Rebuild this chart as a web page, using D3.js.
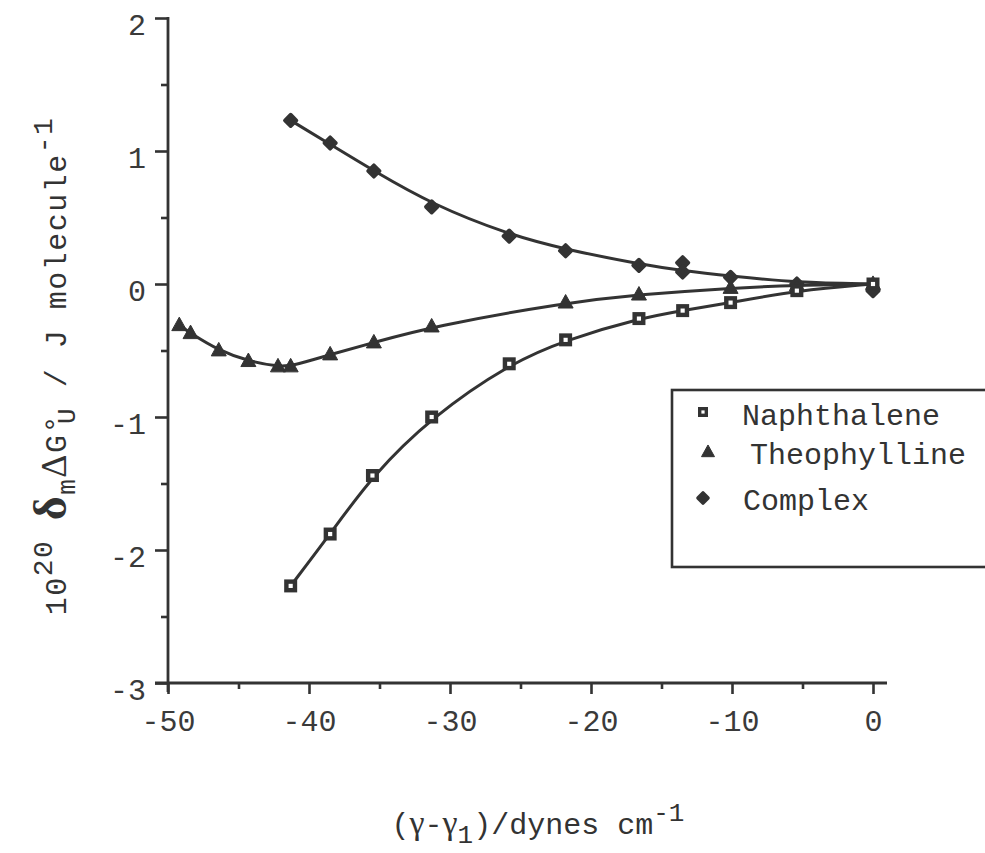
<!DOCTYPE html>
<html>
<head>
<meta charset="utf-8">
<script src="https://cdn.jsdelivr.net/npm/d3@7"></script>
<style>
  html, body { margin: 0; padding: 0; background: #fff; }
  svg { display: block; }
</style>
</head>
<body>
<svg id="chart" width="985" height="853"></svg>
<script>
// ---- data ----
const naphX = [-41.3, -38.5, -35.5, -31.3, -25.8, -21.8, -16.6, -13.5, -10.1, -5.4, 0];
const naphY = [-2.27, -1.88, -1.44, -1.00, -0.60, -0.42, -0.26, -0.20, -0.14, -0.05, 0.0];

const theoX = [-49.2, -48.4, -46.4, -44.3, -42.2, -41.3, -38.5, -35.4, -31.3, -21.8, -16.6, -10.1, -5.4, 0];
const theoY = [-0.31, -0.37, -0.50, -0.58, -0.62, -0.62, -0.53, -0.44, -0.32, -0.14, -0.08, -0.03, -0.01, 0.0];

const compX = [-41.3, -38.5, -35.4, -31.3, -25.8, -21.8, -16.6, -13.5, -13.5, -10.1, -5.4, 0];
const compY = [1.23, 1.06, 0.85, 0.58, 0.36, 0.25, 0.14, 0.16, 0.09, 0.05, 0.0, -0.05];

// fitted curve for the complex, as drawn in the picture
const compFitX = [-41.3, -38.5, -35.4, -31.3, -25.8, -21.8, -16.6, -13.5, -10.1, -5.4, 0];
const compFitY = [1.23, 1.05, 0.85, 0.60, 0.37, 0.26, 0.15, 0.10, 0.06, 0.01, 0.0];

const seriesNames = ["Naphthalene", "Theophylline", "Complex"];
const xTicks = [-50, -40, -30, -20, -10, 0];
const xMinorTicks = [-45, -35, -25, -15, -5];
const yTicks = [2, 1, 0, -1, -2, -3];
const yMinorTicks = [1.5, 0.5, -0.5, -1.5, -2.5];

// ---- setup ----
const ink = "#333";
const mono = "'Liberation Mono', 'Courier New', monospace";
const serif = "'Liberation Serif', 'Times New Roman', serif";
const svg = d3.select("#chart");

const x = d3.scaleLinear().domain([-50, 0]).range([168, 873]);
const y = d3.scaleLinear().domain([-3, 2]).range([683, 18]);

// ---- axes ----
const xAxisG = svg.append("g").attr("transform", `translate(0,${y(-3)})`)
  .call(d3.axisBottom(x).tickValues(xTicks).tickSize(11).tickSizeOuter(0).tickFormat(d => String(d)).tickPadding(16));
const xMinorG = svg.append("g").attr("transform", `translate(0,${y(-3)})`)
  .call(d3.axisBottom(x).tickValues(xMinorTicks).tickSize(6).tickSizeOuter(0).tickFormat(""));
const yAxisG = svg.append("g").attr("transform", `translate(${x(-50)},0)`)
  .call(d3.axisLeft(y).tickValues(yTicks).tickSize(13).tickSizeOuter(0).tickFormat(d => String(d)).tickPadding(9));
const yMinorG = svg.append("g").attr("transform", `translate(${x(-50)},0)`)
  .call(d3.axisLeft(y).tickValues(yMinorTicks).tickSize(7).tickSizeOuter(0).tickFormat(""));

[xAxisG, xMinorG, yAxisG, yMinorG].forEach(g => {
  g.select(".domain").remove();
  g.selectAll(".tick line").attr("stroke", ink).attr("stroke-width", 2.6);
  g.selectAll(".tick text").attr("fill", "#3a3a3a").attr("font-family", mono).attr("font-size", 30);
});
yAxisG.selectAll(".tick text").attr("dy", "0.55em");

// axis lines (cross at the corner)
svg.append("line").attr("x1", x(-50)).attr("x2", x(-50)).attr("y1", y(2) - 1).attr("y2", y(-3) + 9)
  .attr("stroke", ink).attr("stroke-width", 2.8);
svg.append("line").attr("x1", x(-50) - 13).attr("x2", x(0) + 14).attr("y1", y(-3)).attr("y2", y(-3))
  .attr("stroke", ink).attr("stroke-width", 2.8);

// ---- curves ----
const line = d3.line().x(d => x(d[0])).y(d => y(d[1])).curve(d3.curveBasis);
const zip = (a, b) => a.map((v, i) => [v, b[i]]);
const naph = zip(naphX, naphY), theo = zip(theoX, theoY), comp = zip(compX, compY);
const compFit = zip(compFitX, compFitY);

[naph, theo, compFit].forEach(pts => {
  svg.append("path").attr("d", line(pts)).attr("fill", "none")
    .attr("stroke", ink).attr("stroke-width", 3).attr("stroke-linejoin", "round");
});

// ---- markers ----
function squareMarker(g, cx, cy, s) {
  g.append("rect").attr("x", cx - s / 2).attr("y", cy - s / 2).attr("width", s).attr("height", s).attr("fill", ink);
  const w = s * 0.32;
  g.append("rect").attr("x", cx - w / 2).attr("y", cy - w / 2).attr("width", w).attr("height", w).attr("fill", "#fff");
}
function triMarker(g, cx, cy, s) {
  const h = s * 0.9;
  g.append("path").attr("d", `M${cx},${cy - h * 0.6} L${cx + s / 2},${cy + h * 0.4} L${cx - s / 2},${cy + h * 0.4} Z`)
    .attr("fill", ink).attr("stroke", ink).attr("stroke-width", 1).attr("stroke-linejoin", "round");
}
function dotMarker(g, cx, cy, r) {
  g.append("path").attr("d", `M${cx},${cy - r} L${cx + r},${cy} L${cx},${cy + r} L${cx - r},${cy} Z`)
    .attr("fill", ink).attr("stroke", ink).attr("stroke-width", 3.6).attr("stroke-linejoin", "round");
}

const mg = svg.append("g");
theo.forEach(d => triMarker(mg, x(d[0]), y(d[1]), 15));
comp.forEach(d => dotMarker(mg, x(d[0]), y(d[1]), 5.8));
naph.forEach(d => squareMarker(mg, x(d[0]), y(d[1]), 13));

// ---- legend ----
const lg = svg.append("g");
lg.append("rect").attr("x", 672).attr("y", 390).attr("width", 330).attr("height", 177)
  .attr("fill", "#fff").attr("stroke", ink).attr("stroke-width", 2.6);
squareMarker(lg, 703, 412, 10);
triMarker(lg, 708, 452, 13);
dotMarker(lg, 703, 498, 5);
const legX = [742, 750, 743], legY = [425, 464, 510];
seriesNames.forEach((n, i) => {
  lg.append("text").attr("x", legX[i]).attr("y", legY[i]).attr("font-family", mono)
    .attr("font-size", 30).attr("fill", "#333").text(n);
});

// ---- x axis title ----
const xt = svg.append("text").attr("x", 538).attr("y", 834).attr("text-anchor", "middle")
  .attr("font-family", mono).attr("font-size", 30).attr("fill", "#333");
xt.append("tspan").text("(");
xt.append("tspan").attr("font-family", serif).attr("font-size", 34).text("γ");
xt.append("tspan").text("-");
xt.append("tspan").attr("font-family", serif).attr("font-size", 34).text("γ");
xt.append("tspan").attr("font-size", 26).attr("dy", 9).text("1");
xt.append("tspan").attr("dy", -9).text(")/dynes cm");
xt.append("tspan").attr("font-size", 26).attr("dy", -13).text("-1");

// ---- y axis title ----
const yt = svg.append("text").attr("transform", "translate(66,366) rotate(-90)").attr("text-anchor", "middle")
  .attr("font-family", mono).attr("font-size", 30).attr("letter-spacing", 1.5).attr("fill", "#333");
yt.append("tspan").text("10");
yt.append("tspan").attr("font-size", 28).attr("dy", -14).text("20");
yt.append("tspan").attr("dy", 14).text(" ");
yt.append("tspan").attr("font-family", serif).attr("font-weight", "bold").attr("font-size", 46).text("δ");
yt.append("tspan").attr("font-size", 26).attr("dy", 9).text("m");
yt.append("tspan").attr("dy", -9).attr("font-family", serif).attr("font-size", 36).text("Δ");
yt.append("tspan").text("G°");
yt.append("tspan").attr("font-size", 26).attr("dy", 9).attr("dx", -10).text("U");
yt.append("tspan").attr("dy", -9).text(" / J molecule");
yt.append("tspan").attr("font-size", 28).attr("dy", -14).text("-1");
</script>
</body>
</html>
